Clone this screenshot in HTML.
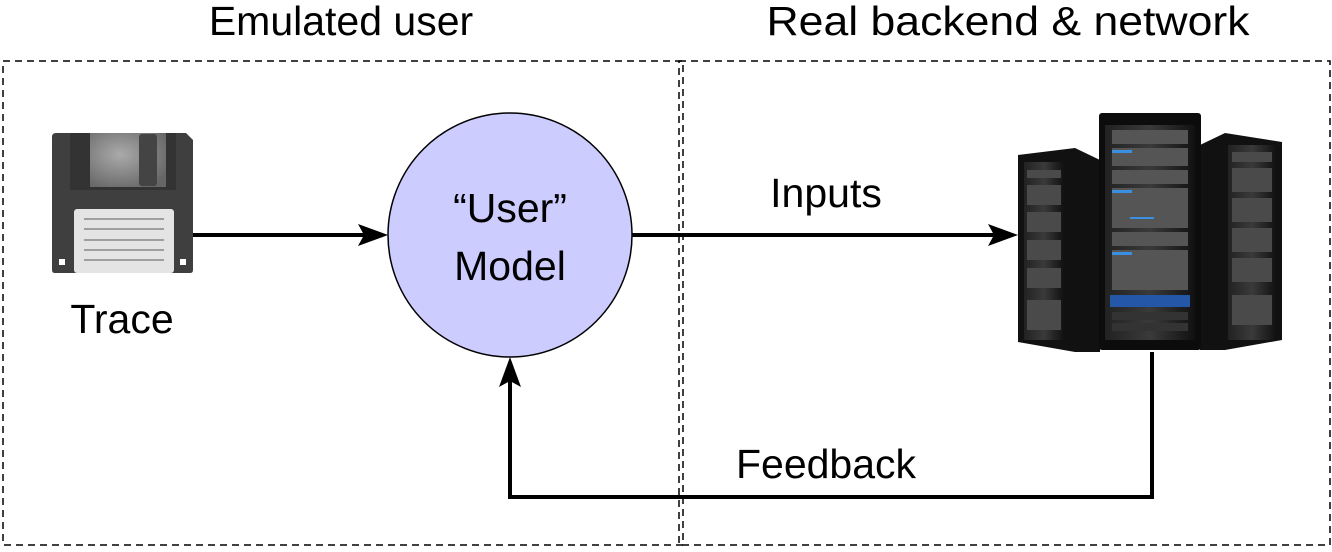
<!DOCTYPE html>
<html><head><meta charset="utf-8"><style>
body{margin:0;background:#fff;width:1332px;height:547px;overflow:hidden}
svg text{font-family:"Liberation Sans",sans-serif;fill:#000}
</style></head><body>
<svg width="1332" height="547" viewBox="0 0 1332 547">
<defs>
<radialGradient id="sh" cx="0.4" cy="0.4" r="0.7"><stop offset="0" stop-color="#aaa"/><stop offset="1" stop-color="#666"/></radialGradient>
<linearGradient id="rk" x1="0" x2="1"><stop offset="0" stop-color="#222"/><stop offset="0.5" stop-color="#3a3a3a"/><stop offset="1" stop-color="#111"/></linearGradient>
</defs>
<text x="341" y="35" font-size="41" text-anchor="middle">Emulated user</text>
<text x="1008" y="35" font-size="41" text-anchor="middle" textLength="483" lengthAdjust="spacingAndGlyphs">Real backend &amp; network</text>
<rect x="3" y="61" width="680" height="484" fill="none" stroke="#000" stroke-width="1.5" stroke-dasharray="7,5"/>
<rect x="679" y="61" width="651" height="484" fill="none" stroke="#000" stroke-width="1.5" stroke-dasharray="7,5"/>
<!-- floppy -->
<path d="M56 133 H186 L193 140 V270 Q193 273 190 273 H55 Q52 273 52 270 V137 Q52 133 56 133Z" fill="#3f3f3f"/>
<rect x="70" y="133" width="106" height="57" fill="#333"/>
<rect x="90" y="133" width="76" height="54" fill="url(#sh)"/>
<rect x="139" y="134" width="18" height="52" rx="3" fill="#444"/>
<rect x="74" y="209" width="100" height="64" rx="3" fill="#e4e4e4"/>
<g stroke="#888" stroke-width="1.5"><line x1="84" y1="219" x2="164" y2="219"/><line x1="84" y1="229" x2="164" y2="229"/><line x1="84" y1="240" x2="164" y2="240"/><line x1="84" y1="250" x2="164" y2="250"/><line x1="84" y1="260" x2="164" y2="260"/></g>
<rect x="59" y="259" width="6" height="6" fill="#fff"/><rect x="180" y="259" width="6" height="6" fill="#fff"/>
<text x="122" y="333" font-size="41" text-anchor="middle">Trace</text>
<!-- circle -->
<circle cx="510" cy="235" r="122" fill="#ccccff" stroke="#000" stroke-width="1.5"/>
<text x="510" y="222" font-size="41" text-anchor="middle">“User”</text>
<text x="510" y="280" font-size="41" text-anchor="middle">Model</text>
<!-- arrows -->
<g stroke="#000" stroke-width="4" fill="none">
<line x1="193" y1="235" x2="368" y2="235"/>
<line x1="632" y1="235" x2="998" y2="235"/>
<polyline points="1152,352 1152,497 510,497 510,378"/>
</g>
<polygon points="388,235 358,224 364,235 358,246" fill="#000"/>
<polygon points="1018,235 988,224 994,235 988,246" fill="#000"/>
<polygon points="510,357 499,387 510,381 521,387" fill="#000"/>
<text x="826" y="207" font-size="41" text-anchor="middle">Inputs</text>
<text x="826" y="478" font-size="41" text-anchor="middle">Feedback</text>
<!-- servers -->
<path d="M1018 155 L1075 148 L1100 160 V352 L1075 352 L1018 342Z" fill="#111"/>
<rect x="1024" y="162" width="40" height="178" fill="url(#rk)"/>
<g fill="#4a4a4a"><rect x="1027" y="170" width="34" height="8"/><rect x="1027" y="185" width="34" height="20"/><rect x="1027" y="212" width="34" height="20"/><rect x="1027" y="240" width="34" height="20"/><rect x="1027" y="268" width="34" height="20"/><rect x="1027" y="300" width="34" height="30"/></g>
<path d="M1200 145 L1225 133 L1282 142 V340 L1225 350 L1200 350Z" fill="#111"/>
<rect x="1228" y="145" width="48" height="195" fill="url(#rk)"/>
<g fill="#4a4a4a"><rect x="1232" y="152" width="40" height="10"/><rect x="1232" y="168" width="40" height="24"/><rect x="1232" y="198" width="40" height="24"/><rect x="1232" y="228" width="40" height="24"/><rect x="1232" y="258" width="40" height="24"/><rect x="1232" y="295" width="40" height="30"/></g>
<rect x="1099" y="113" width="102" height="237" rx="3" fill="#0c0c0c"/>
<rect x="1105" y="125" width="90" height="215" fill="url(#rk)"/>
<g fill="#555">
<rect x="1112" y="130" width="76" height="14"/><rect x="1112" y="148" width="76" height="18"/><rect x="1112" y="170" width="76" height="14"/><rect x="1112" y="188" width="76" height="40"/><rect x="1112" y="232" width="76" height="14"/><rect x="1112" y="250" width="76" height="40"/>
</g>
<g fill="#3a8fe0"><rect x="1112" y="150" width="20" height="3"/><rect x="1112" y="190" width="20" height="3"/><rect x="1112" y="252" width="20" height="3"/><rect x="1130" y="217" width="24" height="2"/></g>
<rect x="1110" y="295" width="80" height="12" fill="#2457a8"/>
<rect x="1112" y="312" width="76" height="8" fill="#333"/><rect x="1112" y="323" width="76" height="8" fill="#333"/>
</svg>
</body></html>
